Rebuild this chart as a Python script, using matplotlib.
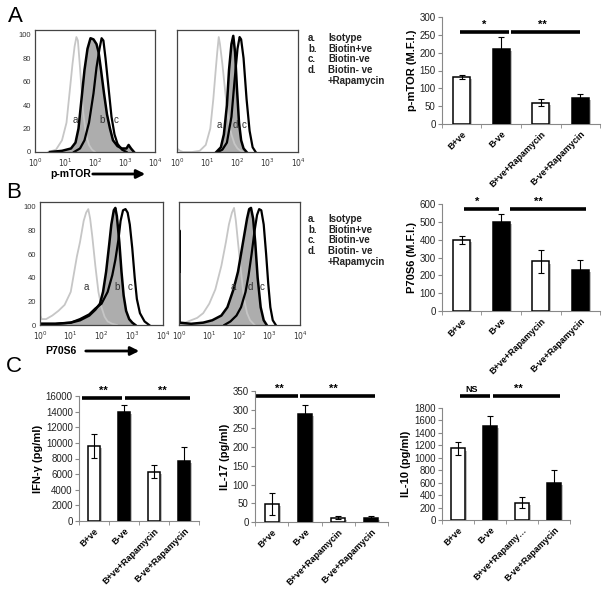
import numpy as np
import matplotlib
matplotlib.use("Agg")
import matplotlib.pyplot as plt
import matplotlib.patheffects as pe

plt.rcParams['font.family'] = ['Liberation Sans', 'DejaVu Sans']

# ---- flow histograms: (log10 intensity, % of max) ----
# A, p-mTOR, untreated
mtor_iso_lx = [0.45, 0.7, 0.9, 1.05, 1.17, 1.25, 1.32, 1.38, 1.43, 1.5, 1.6, 1.7, 1.8, 1.9, 2.0]
mtor_iso_y = [0, 2, 10, 25, 55, 75, 90, 98, 95, 72, 35, 15, 6, 2, 0]
mtor_bpos_lx = [0.5, 0.9, 1.2, 1.35, 1.45, 1.55, 1.65, 1.75, 1.85, 1.95, 2.05, 2.12, 2.2, 2.3, 2.4,
                2.5, 2.6, 2.75, 2.9, 3.05, 3.12, 3.2, 3.3]
mtor_bpos_y = [0, 1, 3, 8, 20, 45, 70, 88, 97, 96, 92, 85, 70, 50, 32, 20, 10, 5, 3, 3, 6, 3, 0]
mtor_bneg_lx = [1.3, 1.5, 1.65, 1.8, 1.95, 2.05, 2.15, 2.22, 2.28, 2.35, 2.45, 2.55, 2.65, 2.75, 2.9, 3.05]
mtor_bneg_y = [0, 3, 10, 25, 50, 72, 88, 97, 95, 80, 55, 30, 15, 7, 2, 0]
# A, p-mTOR, rapamycin
mtor_iso2_lx = [0.0, 0.1, 0.2, 0.5, 0.75, 0.95, 1.1, 1.2, 1.28, 1.33, 1.38, 1.42, 1.5, 1.6, 1.7,
                1.8, 1.9, 2.0, 2.1, 2.2]
mtor_iso2_y = [3, 1, 0, 0, 1, 6, 20, 45, 70, 85, 98, 92, 75, 50, 28, 15, 7, 3, 1, 0]
mtor_rap_lx = [1.3, 1.45, 1.55, 1.65, 1.72, 1.8, 1.86, 1.92, 1.98, 2.05, 2.12, 2.2, 2.3]
mtor_rap_y = [0, 4, 15, 40, 70, 92, 99, 85, 55, 25, 10, 3, 0]
mtor_bneg2_lx = [1.35, 1.5, 1.65, 1.8, 1.9, 2.0, 2.07, 2.12, 2.2, 2.3, 2.4, 2.5, 2.6]
mtor_bneg2_y = [0, 2, 8, 30, 60, 88, 98, 96, 80, 45, 18, 4, 0]

# B, P70S6, untreated
p70_iso_lx = [0.0, 0.02, 0.05, 0.2, 0.4, 0.6, 0.8, 1.0, 1.2, 1.3, 1.42, 1.5, 1.57, 1.63, 1.7, 1.8,
              1.9, 2.0, 2.1, 2.2, 2.35, 2.5]
p70_iso_y = [45, 8, 5, 5, 8, 12, 17, 28, 58, 70, 88, 95, 98, 90, 75, 50, 28, 15, 7, 3, 1, 0]
p70_bpos_lx = [0.0, 0.5, 1.0, 1.3, 1.6, 1.8, 1.95, 2.05, 2.15, 2.25, 2.32, 2.4, 2.45, 2.5, 2.58,
               2.65, 2.72, 2.8, 2.9, 3.0, 3.1]
p70_bpos_y = [1, 1, 2, 4, 8, 13, 18, 28, 45, 68, 85, 97, 99, 92, 70, 45, 25, 12, 5, 2, 0]
p70_bneg_lx = [0.0, 0.5, 1.0, 1.3, 1.6, 1.8, 2.0, 2.2, 2.35, 2.45, 2.55, 2.62, 2.7, 2.78, 2.85,
               2.92, 3.0, 3.08, 3.15, 3.25, 3.4, 3.55]
p70_bneg_y = [1, 1, 2, 5, 9, 14, 18, 28, 42, 55, 72, 88, 97, 98, 95, 85, 65, 40, 22, 10, 3, 0]
# B, P70S6, rapamycin
p70_iso2_lx = [0.0, 0.02, 0.2, 0.4, 0.6, 0.8, 1.0, 1.2, 1.4, 1.55, 1.65, 1.75, 1.82, 1.88, 1.95,
               2.05, 2.15, 2.25, 2.35, 2.5]
p70_iso2_y = [12, 2, 2, 4, 6, 10, 18, 30, 50, 70, 85, 95, 99, 88, 70, 45, 22, 10, 4, 0]
p70_rap_lx = [0.0, 0.01, 0.02, 0.4, 0.8, 1.1, 1.4, 1.6, 1.8, 1.95, 2.05, 2.15, 2.25, 2.32, 2.38,
              2.45, 2.52, 2.6, 2.7, 2.8, 2.9]
p70_rap_y = [45, 80, 2, 1, 2, 4, 8, 15, 30, 45, 60, 75, 90, 98, 99, 90, 70, 40, 15, 4, 0]
p70_bneg2_lx = [1.5, 1.7, 1.9, 2.05, 2.2, 2.3, 2.4, 2.5, 2.58, 2.65, 2.72, 2.8, 2.88, 2.95, 3.02, 3.1, 3.2]
p70_bneg2_y = [0, 3, 8, 15, 28, 42, 60, 80, 93, 98, 97, 85, 60, 35, 15, 4, 0]

legend_keys = ["a.", "b.", "c.", "d.", ""]
legend_names = ["Isotype", "Biotin+ve", "Biotin-ve", "Biotin- ve", "+Rapamycin"]

# ---- bar charts ----
groups = ["B+ve", "B-ve", "B+ve+Rapamycin", "B-ve+Rapamycin"]
groups_il10 = ["B+ve", "B-ve", "B+ve+Rapamy\u2026", "B-ve+Rapamycin"]
mtor_mfi = [132, 210, 60, 72]
mtor_err = [6, 35, 9, 11]
p70_mfi = [400, 500, 278, 232]
p70_err = [22, 45, 65, 55]
ifn_g = [9600, 14000, 6300, 7700]
ifn_g_err = [1550, 900, 850, 1800]
il17 = [48, 288, 12, 11]
il17_err = [29, 24, 5, 5]
il10 = [1150, 1505, 280, 590]
il10_err = [100, 165, 95, 210]

W, H = 606, 592
fig = plt.figure(figsize=(W / 100, H / 100), dpi=100)


def box(l, t, r, b):
    return [l / W, 1 - b / H, (r - l) / W, (b - t) / H]


def fx(x):
    return x / W


def fy(y):
    return 1 - y / H


def histo(ax, iso, filled, openc, letters, yticks=True):
    ax.plot(10 ** np.array(iso[0]), iso[1], color='#c6c6c6', lw=1.3)
    xf = 10 ** np.array(filled[0])
    ax.fill_between(xf, filled[1], color='#adadad', lw=0)
    ax.plot(xf, filled[1], color='k', lw=1.8)
    ax.plot(10 ** np.array(openc[0]), openc[1], color='k', lw=1.6)
    for t, lx, yy in letters:
        ax.text(10 ** lx, yy, t, fontsize=7, color='#333333', ha='center', va='center')
    ax.set_xscale('log')
    ax.set_xlim(1, 1e4)
    ax.set_ylim(0, 104)
    ax.set_xticks([1, 10, 100, 1000, 10000])
    ax.set_xticklabels(['$10^0$', '$10^1$', '$10^2$', '$10^3$', '$10^4$'])
    ax.minorticks_off()
    if yticks:
        ax.set_yticks([0, 20, 40, 60, 80, 100])
    else:
        ax.set_yticks([])
    ax.tick_params(length=0, labelsize=5.5, labelcolor='#333333', pad=3)
    for s in ax.spines.values():
        s.set_color('#444444')
        s.set_linewidth(0.9)


ax = fig.add_axes(box(35, 30, 155, 152))
histo(ax, (mtor_iso_lx, mtor_iso_y), (mtor_bpos_lx, mtor_bpos_y), (mtor_bneg_lx, mtor_bneg_y),
      [('a', 1.33, 27), ('b', 2.23, 27), ('c', 2.7, 27)])
ax = fig.add_axes(box(177, 30, 298, 152))
histo(ax, (mtor_iso2_lx, mtor_iso2_y), (mtor_rap_lx, mtor_rap_y), (mtor_bneg2_lx, mtor_bneg2_y),
      [('a', 1.4, 23), ('d', 1.93, 23), ('c', 2.23, 23)], yticks=False)
ax = fig.add_axes(box(40, 202, 163, 325))
histo(ax, (p70_iso_lx, p70_iso_y), (p70_bpos_lx, p70_bpos_y), (p70_bneg_lx, p70_bneg_y),
      [('a', 1.5, 32), ('b', 2.5, 32), ('c', 2.93, 32)])
ax = fig.add_axes(box(179, 202, 300, 325))
histo(ax, (p70_iso2_lx, p70_iso2_y), (p70_rap_lx, p70_rap_y), (p70_bneg2_lx, p70_bneg2_y),
      [('a', 1.79, 32), ('d', 2.37, 32), ('c', 2.73, 32)], yticks=False)

# axis titles with arrows under the first histograms
fig.text(fx(50), fy(174), 'p-mTOR', fontsize=7.5, fontweight='bold', va='center')
fig.text(fx(45), fy(351), 'P70S6', fontsize=7.5, fontweight='bold', va='center')
for x0, x1, yy in [(90, 148, 174), (83, 142, 351)]:
    fig.add_artist(matplotlib.patches.FancyArrowPatch((fx(x0), fy(yy)), (fx(x1), fy(yy)),
                   transform=fig.transFigure, arrowstyle='-|>,head_length=5,head_width=2.5',
                   color='k', lw=2))

# legends
for top in (38, 219):
    for i, (k, n) in enumerate(zip(legend_keys, legend_names)):
        yy = top + i * 10.7
        fig.text(fx(308), fy(yy), k, fontsize=7, fontweight='bold', va='center', color='#222222')
        fig.text(fx(328), fy(yy), n, fontsize=7, fontweight='bold', va='center', color='#222222')

# panel letters
for t, x, y in [('A', 15, 17), ('B', 14, 192), ('C', 14, 366)]:
    fig.text(fx(x), fy(y), t, fontsize=16, ha='center', va='center')


def bars(ax, vals, errs, labels, ylim, yticks, ylabel, sig):
    x = np.arange(len(vals))
    rects = ax.bar(x, vals, width=0.42, color=['white', 'black', 'white', 'black'],
                   edgecolor='black', lw=1.1, yerr=errs, capsize=2.5,
                   error_kw=dict(lw=0.8, capthick=0.8, ecolor='black'), zorder=3)
    for r in rects:
        r.set_path_effects([pe.SimplePatchShadow(offset=(1.5, -1.5), shadow_rgbFace='0.45', alpha=0.45),
                            pe.Normal()])
    ax.set_xlim(-0.5, 3.5)
    ax.set_ylim(*ylim)
    ax.set_yticks(yticks)
    ax.set_xticks(x)
    ax.set_xticklabels(labels, rotation=45, ha='right', rotation_mode='anchor',
                       fontsize=6.5, fontweight='bold')
    ax.set_xticks(np.arange(-0.5, 4), minor=True)
    ax.tick_params(axis='x', which='major', length=0, pad=4)
    ax.tick_params(axis='x', which='minor', length=3, color='#888888')
    ax.tick_params(axis='y', length=3, color='#888888', labelsize=7, labelcolor='#222222', pad=1.5)
    ax.set_ylabel(ylabel, fontsize=8, fontweight='bold', labelpad=2)
    for s in ('top', 'right'):
        ax.spines[s].set_visible(False)
    for s in ('left', 'bottom'):
        ax.spines[s].set_color('#888888')
        ax.spines[s].set_linewidth(0.8)
    for x0, x1, yy, txt, tx in sig:
        ax.plot([x0, x1], [yy, yy], color='k', lw=2.6, clip_on=False, solid_capstyle='butt')
        ax.annotate(txt, (tx, yy), xytext=(0, 1.5), textcoords='offset points', ha='center',
                    va='bottom', fontsize=8 if txt != 'NS' else 6.5, fontweight='bold',
                    annotation_clip=False)


ax = fig.add_axes(box(442, 17, 600, 124))
bars(ax, mtor_mfi, mtor_err, groups, (0, 300), range(0, 301, 50), 'p-mTOR (M.F.I.)',
     [(-0.05, 1.2, 258, '*', 0.56), (1.25, 3.0, 258, '**', 2.05)])
ax = fig.add_axes(box(442, 204, 600, 311))
bars(ax, p70_mfi, p70_err, groups, (0, 600), range(0, 601, 100), 'P70S6 (M.F.I.)',
     [(0.05, 0.95, 572, '*', 0.4), (1.23, 3.15, 572, '**', 1.95)])
ax = fig.add_axes(box(79, 396, 199, 521))
bars(ax, ifn_g, ifn_g_err, groups, (0, 16000), range(0, 16001, 2000), 'IFN-\u03b3 (pg/ml)',
     [(-0.4, 0.93, 15740, '**', 0.3), (1.03, 3.2, 15740, '**', 2.27)])
ax = fig.add_axes(box(255, 391, 388, 522))
bars(ax, il17, il17_err, groups, (0, 350), range(0, 351, 50), 'IL-17 (pg/ml)',
     [(-0.5, 0.8, 337, '**', 0.24), (0.85, 3.1, 337, '**', 1.85)])
ax = fig.add_axes(box(442, 408, 570, 520))
bars(ax, il10, il10_err, groups_il10, (0, 1800), range(0, 1801, 200), 'IL-10 (pg/ml)',
     [(0.06, 1.0, 1993, 'NS', 0.44), (1.1, 3.2, 1993, '**', 1.9)])

fig.savefig('out.png', dpi=100)
